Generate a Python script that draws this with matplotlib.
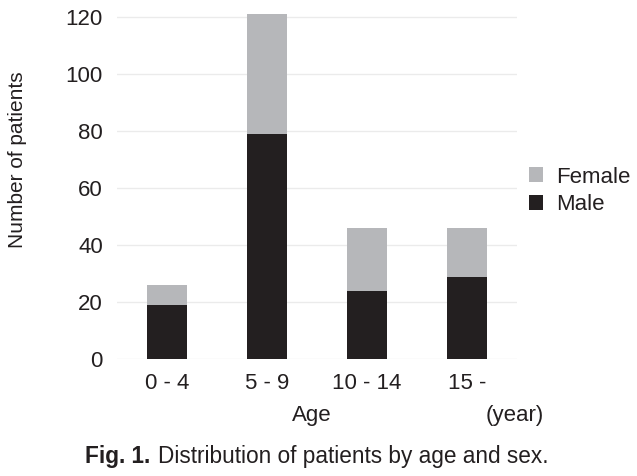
import matplotlib.pyplot as plt
import numpy as np

plt.rcParams['font.family'] = ['Liberation Sans', 'DejaVu Sans']

# datos
grupos = ['0 - 4', '5 - 9', '10 - 14', '15 -']
hombres = np.array([19, 79, 24, 29])
mujeres = np.array([7, 42, 22, 17])

c_text = '#231f20'
c_male = '#231f20'
c_female = '#b6b7ba'

fig = plt.figure(figsize=(6.37, 4.76), dpi=100)
ax = fig.add_axes([116.7/637, 116.7/476, 400/637, 348/476])

x = np.arange(len(grupos))
ax.bar(x, hombres, width=0.4, color=c_male, label='Male', zorder=3)
ax.bar(x, mujeres, width=0.4, bottom=hombres, color=c_female, label='Female', zorder=3)

ax.set_xlim(-0.5, 3.5)
ax.set_ylim(0, 122)
ax.set_yticks(np.arange(0, 121, 20))
ax.set_xticks(x)
ax.set_xticklabels(grupos)
ax.grid(axis='y', color='#ebebeb', linewidth=1, zorder=0)
for s in ax.spines.values():
    s.set_visible(False)
ax.tick_params(length=0, labelsize=16, labelcolor=c_text)
ax.tick_params(axis='y', pad=10)
ax.tick_params(axis='x', pad=10)

fig.text(312/637, 1 - 415/476, 'Age', ha='center', va='center', fontsize=16, color=c_text)
fig.text(515/637, 1 - 415/476, '(year)', ha='center', va='center', fontsize=16, color=c_text)
fig.text(18/637, 1 - 160/476, 'Number of patients', rotation=90, ha='center', va='center',
         fontsize=15, color=c_text)

# leyenda (Female arriba)
h, l = ax.get_legend_handles_labels()
fig.legend(h[::-1], l[::-1], loc='center left', bbox_to_anchor=(509/637, 1 - 191/476),
           frameon=False, fontsize=16, handlelength=0.65, handleheight=0.65,
           handletextpad=0.55, labelspacing=0.3, labelcolor=c_text)

# pie de figura
fig.text(85/637, 1 - 457/476, 'Fig. 1.', fontweight='bold', ha='left', va='center',
         fontsize=16.3, color=c_text)
fig.text(158/637, 1 - 457/476, 'Distribution of patients by age and sex.', ha='left',
         va='center', fontsize=16.3, color=c_text)

fig.savefig('out.png', dpi=100)
